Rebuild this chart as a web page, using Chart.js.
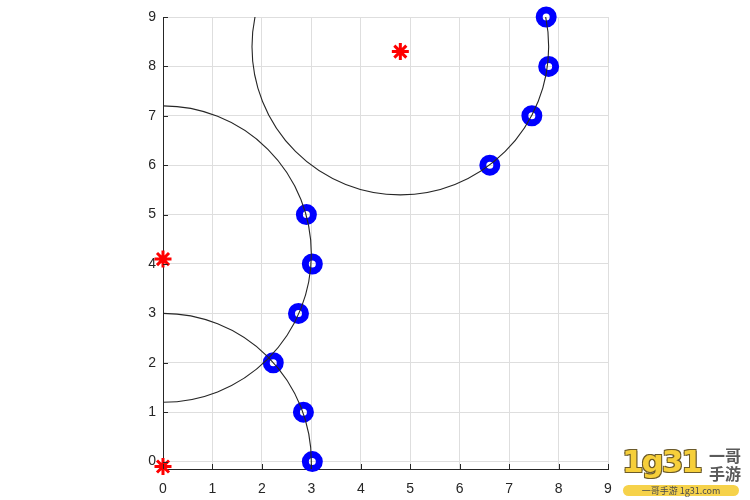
<!DOCTYPE html>
<html>
<head>
<meta charset="utf-8">
<script src="https://cdn.jsdelivr.net/npm/chart.js@4"></script>
<style>
  body { margin: 0; background: #fff; }
  #wrap { position: relative; width: 750px; height: 500px; }
  #logo { position: absolute; left: 620px; top: 443px; width: 128px; height: 56px; font-family: 'Noto Sans CJK SC', sans-serif; }
  #logo .big { position: absolute; left: 2px; top: 0px; font: bold 31px 'DejaVu Sans', sans-serif; color: #f6cf3a; letter-spacing: -2px;
    text-shadow: -1px -1px 0 #6b5a2a, 1px -1px 0 #6b5a2a, -1px 1px 0 #6b5a2a, 1px 1px 0 #6b5a2a; }
  #logo .side { position: absolute; left: 89px; top: 3px; font-size: 16px; line-height: 18px; color: #5a5a5a; font-weight: bold; }
  #logo .pill { position: absolute; left: 3px; top: 42px; width: 116px; height: 11px; border-radius: 6px; background: #f6d24a;
    font-size: 9px; line-height: 11px; color: #4a4a4a; text-align: center; }
</style>
</head>
<body>
<div id="wrap">
  <canvas id="c" width="750" height="500"></canvas>
  <div id="logo">
    <div class="big">1g31</div>
    <div class="side">一哥<br>手游</div>
    <div class="pill">一哥手游 1g31.com</div>
  </div>
</div>
<script>
// axis ticks
const tickValues = [0, 1, 2, 3, 4, 5, 6, 7, 8, 9];

// blue circle markers (points found on the arcs)
const pointX = [3.02, 2.84, 2.23, 2.74, 3.02, 2.9, 6.61, 7.46, 7.8, 7.75];
const pointY = [0, 1, 2, 3, 4, 5, 6, 7, 8, 9];

// red star markers
const starX = [0, 0, 4.8];
const starY = [-0.1, 4.1, 8.3];

// circles: centre and radius
const arcCX = [0, 0, 4.8];
const arcCY = [0, 4.2, 8.4];
const arcR = [3, 3, 3];

const axisColor = '#262626';

// circles + inward tick marks, like the matlab figure
const circlePlugin = {
  id: 'circles',
  afterDatasetsDraw(chart) {
    const { ctx, chartArea: a, scales: { x, y } } = chart;
    ctx.save();
    ctx.strokeStyle = axisColor;
    ctx.lineWidth = 1;
    tickValues.forEach(v => {
      const px = Math.round(x.getPixelForValue(v)) + 0.5;
      ctx.beginPath(); ctx.moveTo(px, a.bottom); ctx.lineTo(px, a.bottom - 5); ctx.stroke();
      const py = Math.round(y.getPixelForValue(v)) + 0.5;
      ctx.beginPath(); ctx.moveTo(a.left, py); ctx.lineTo(a.left + 5, py); ctx.stroke();
    });
    ctx.beginPath();
    ctx.rect(a.left, a.top, a.right - a.left, a.bottom - a.top);
    ctx.clip();
    ctx.lineWidth = 1.1;
    arcCX.forEach((cx, i) => {
      const px = x.getPixelForValue(cx);
      const py = y.getPixelForValue(arcCY[i]);
      const rx = x.getPixelForValue(cx + arcR[i]) - px;
      const ry = py - y.getPixelForValue(arcCY[i] + arcR[i]);
      ctx.beginPath();
      ctx.ellipse(px, py, rx, ry, 0, 0, Math.PI * 2);
      ctx.stroke();
    });
    ctx.restore();
  }
};

const scaleBase = {
  type: 'linear',
  afterBuildTicks: s => { s.ticks = tickValues.map(v => ({ value: v })); },
  grid: { color: '#dedede', drawTicks: false },
  border: { color: axisColor, width: 1 },
  ticks: { color: axisColor, font: { family: 'Liberation Sans', size: 14 } }
};

new Chart(document.getElementById('c'), {
  type: 'scatter',
  data: {
    datasets: [
      {
        data: starX.map((v, i) => ({ x: v, y: starY[i] })),
        pointStyle: 'star', pointRadius: 8.5, borderWidth: 3,
        borderColor: '#ff0000', backgroundColor: '#ff0000',
        clip: false, order: 1
      },
      {
        data: pointX.map((v, i) => ({ x: v, y: pointY[i] })),
        pointStyle: 'circle', pointRadius: 7, borderWidth: 7,
        borderColor: '#0000ff', backgroundColor: 'rgba(0,0,0,0)',
        clip: false, order: 2
      }
    ]
  },
  options: {
    responsive: false,
    animation: false,
    events: [],
    layout: { padding: { top: 17, right: 142, left: 0, bottom: 0 } },
    plugins: { legend: { display: false }, tooltip: { enabled: false } },
    scales: {
      x: { ...scaleBase, min: 0, max: 9,
        ticks: { ...scaleBase.ticks, padding: 12, maxRotation: 0 },
        afterFit: s => { s.height = 31; } },
      y: { ...scaleBase, min: -0.15, max: 9,
        ticks: { ...scaleBase.ticks, padding: 7 },
        afterFit: s => { s.width = 163; } }
    }
  },
  plugins: [circlePlugin]
});
</script>
</body>
</html>
